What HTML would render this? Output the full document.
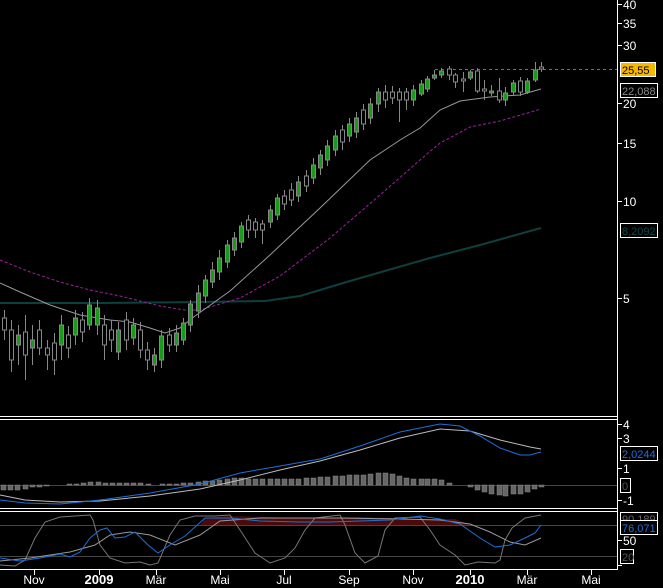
<!DOCTYPE html>
<html><head><meta charset="utf-8"><style>
html,body{margin:0;padding:0;background:#000;}
svg{display:block;font-family:"Liberation Sans",sans-serif;}
.g{fill:#1a9a1a;stroke:#888}.o{fill:#000;stroke:#888}
</style></head><body>
<svg width="663" height="588" viewBox="0 0 663 588" xmlns="http://www.w3.org/2000/svg">
<rect width="663" height="588" fill="#000"/>
<g stroke="#fff" stroke-width="1" fill="none">
<line x1="617.5" y1="0" x2="617.5" y2="570"/>
<line x1="0" y1="416.5" x2="617" y2="416.5"/>
<line x1="0" y1="419.5" x2="617" y2="419.5"/>
<line x1="0" y1="508.5" x2="617" y2="508.5"/>
<line x1="0" y1="511.5" x2="617" y2="511.5"/>
<line x1="0" y1="569.5" x2="617" y2="569.5"/>
</g>
<g stroke="#fff"><line x1="617" y1="4.5" x2="622" y2="4.5"/><line x1="617" y1="23.5" x2="622" y2="23.5"/><line x1="617" y1="45.5" x2="622" y2="45.5"/><line x1="617" y1="103.5" x2="622" y2="103.5"/><line x1="617" y1="143.5" x2="622" y2="143.5"/><line x1="617" y1="201.5" x2="622" y2="201.5"/><line x1="617" y1="298.5" x2="622" y2="298.5"/>
<line x1="617" y1="424.5" x2="622" y2="424.5"/><line x1="617" y1="438.5" x2="622" y2="438.5"/><line x1="617" y1="468.5" x2="622" y2="468.5"/><line x1="617" y1="500.5" x2="622" y2="500.5"/><line x1="617" y1="540.5" x2="622" y2="540.5"/><line x1="617" y1="565.5" x2="622" y2="565.5"/>
</g>
<g fill="#fff" font-size="12">
<text x="623" y="9">40</text><text x="623" y="28">35</text><text x="623" y="50">30</text><text x="623" y="108">20</text><text x="623" y="148">15</text><text x="623" y="206">10</text><text x="623" y="303">5</text>
<text x="623" y="429">4</text><text x="623" y="443">3</text><text x="623" y="473">1</text><text x="623" y="505">-1</text><text x="623" y="545">50</text>
</g>
<g font-size="11">
<rect x="620.5" y="62.5" width="35" height="14" fill="#f5b800" stroke="#fff"/><text x="622" y="74" fill="#000">25,55</text>
<rect x="620.5" y="83.5" width="37" height="14" fill="#000" stroke="#fff"/><text x="622" y="95" fill="#888">22,088</text>
<rect x="620.5" y="223.5" width="37" height="14" fill="#000" stroke="#fff"/><text x="622" y="235" fill="#0c4848">8,2092</text>
<rect x="620.5" y="446.5" width="37" height="14" fill="#000" stroke="#fff"/><text x="622" y="458" fill="#1e6fd9">2,0244</text>
<rect x="620.5" y="478.5" width="10" height="14" fill="#000" stroke="#fff"/><text x="622" y="490" fill="#555">0</text>
<rect x="620.5" y="512.5" width="37" height="12" fill="#000" stroke="#fff"/><text x="622" y="523" fill="#666">90,189</text>
<rect x="620.5" y="520.5" width="37" height="14" fill="#000" stroke="#fff"/><text x="622" y="532" fill="#1e6fd9">76,071</text>
<rect x="620.5" y="549.5" width="13" height="14" fill="#000" stroke="#fff"/><text x="622" y="561" fill="#555">20</text>
</g>
<g stroke="#fff"><line x1="34.5" y1="570" x2="34.5" y2="575"/><line x1="99.5" y1="570" x2="99.5" y2="575"/><line x1="156.5" y1="570" x2="156.5" y2="575"/><line x1="220.5" y1="570" x2="220.5" y2="575"/><line x1="284.5" y1="570" x2="284.5" y2="575"/><line x1="349.5" y1="570" x2="349.5" y2="575"/><line x1="413.5" y1="570" x2="413.5" y2="575"/><line x1="470.5" y1="570" x2="470.5" y2="575"/><line x1="527.5" y1="570" x2="527.5" y2="575"/><line x1="591.5" y1="570" x2="591.5" y2="575"/></g>
<g fill="#fff" font-size="12" text-anchor="middle">
<text x="34" y="584">Nov</text><text x="99" y="584" font-weight="bold" font-size="13">2009</text><text x="156" y="584">Mär</text><text x="220" y="584">Mai</text><text x="284" y="584">Jul</text><text x="349" y="584">Sep</text><text x="413" y="584">Nov</text><text x="470" y="584" font-weight="bold" font-size="13">2010</text><text x="527" y="584">Mär</text><text x="591" y="584">Mai</text>
</g>
<line x1="0" y1="485.5" x2="617" y2="485.5" stroke="#444"/>
<line x1="0" y1="525.5" x2="617" y2="525.5" stroke="#444"/>
<line x1="0" y1="556.5" x2="617" y2="556.5" stroke="#444"/>
<line x1="435" y1="69.5" x2="617" y2="69.5" stroke="#b06020" stroke-dasharray="3,3"/>
<polyline fill="none" stroke="#0e3f3f" stroke-width="2" points="0,303 100,303 200,302 265,301 300,296 350,281 430,258 480,245 541,228"/>
<polyline fill="none" stroke="#a020a0" stroke-dasharray="3,2" points="0,260 30,272 60,282 90,290 120,296 160,306 185,310 200,310 240,298 280,276 330,238 380,195 420,160 440,143 470,127 500,121 541,109"/>
<polyline fill="none" stroke="#999" points="0,283 20,292 50,305 80,315 110,320 130,322 150,328 165,333 180,328 195,316 230,291 270,255 320,208 370,160 400,140 420,128 440,110 460,101 490,97 520,95 541,89"/>
<path stroke="#888" fill="none" d="M4.5 310V340M11.5 320V372M18.5 325V365M25.5 315V380M32.5 325V365M39.5 320V355M47.5 340V370M54.5 333V375M61.5 315V360M68.5 326V358M75.5 310V345M82.5 312V342M89.5 298V330M97.5 300V335M104.5 315V360M111.5 320V352M118.5 322V360M126.5 312V350M133.5 318V345M140.5 322V358M147.5 342V370M154.5 348V372M161.5 330V368M169.5 328V352M176.5 325V352M183.5 318V345M190.5 300V332M198.5 285V318M205.5 275V303M212.5 262V288M219.5 250V280M227.5 240V268M234.5 232V256M241.5 222V248M248.5 215V238M255.5 218V238M262.5 220V244M270.5 205V228M277.5 194V220M284.5 190V210M291.5 183V206M298.5 176V202M306.5 170V192M313.5 158V184M320.5 150V175M327.5 140V166M335.5 130V156M342.5 125V150M349.5 118V142M356.5 112V138M363.5 104V130M370.5 98V124M378.5 88V112M385.5 85V108M392.5 86V104M399.5 88V122M406.5 88V110M413.5 85V106M421.5 80V96M427.5 76V92M434.5 70V80M441.5 68V78M449.5 66V80M455.5 73V88M463.5 72V92M470.5 70V80M477.5 68V93M484.5 80V100M491.5 85V96M499.5 78V103M505.5 87V106M513.5 80V96M520.5 77V96M527.5 78V94M535.5 62V82M541.5 62V72"/>
<g>
<rect class="o" x="2.5" y="318" width="4" height="12"/><rect class="o" x="9.5" y="330" width="4" height="30"/><rect class="g" x="16.5" y="335" width="4" height="10"/><rect class="o" x="23.5" y="332" width="4" height="23"/><rect class="g" x="30.5" y="340" width="4" height="8"/><rect class="o" x="37.5" y="330" width="4" height="18"/><rect class="o" x="45.5" y="348" width="4" height="7"/><rect class="o" x="52.5" y="343" width="4" height="17"/><rect class="g" x="59.5" y="325" width="4" height="20"/><rect class="o" x="66.5" y="335" width="4" height="13"/><rect class="g" x="73.5" y="318" width="4" height="17"/><rect class="o" x="80.5" y="320" width="4" height="12"/><rect class="g" x="87.5" y="305" width="4" height="20"/><rect class="g" x="95.5" y="308" width="4" height="17"/><rect class="o" x="102.5" y="325" width="4" height="20"/><rect class="o" x="109.5" y="330" width="4" height="10"/><rect class="g" x="116.5" y="330" width="4" height="22"/><rect class="o" x="124.5" y="320" width="4" height="20"/><rect class="g" x="131.5" y="325" width="4" height="13"/><rect class="o" x="138.5" y="330" width="4" height="20"/><rect class="o" x="145.5" y="350" width="4" height="10"/><rect class="g" x="152.5" y="355" width="4" height="10"/><rect class="g" x="159.5" y="336" width="4" height="24"/><rect class="o" x="167.5" y="335" width="4" height="10"/><rect class="g" x="174.5" y="333" width="4" height="12"/><rect class="g" x="181.5" y="323" width="4" height="17"/><rect class="g" x="188.5" y="304" width="4" height="21"/><rect class="g" x="196.5" y="293" width="4" height="18"/><rect class="g" x="203.5" y="280" width="4" height="16"/><rect class="g" x="210.5" y="270" width="4" height="12"/><rect class="g" x="217.5" y="258" width="4" height="14"/><rect class="g" x="225.5" y="245" width="4" height="17"/><rect class="g" x="232.5" y="238" width="4" height="12"/><rect class="g" x="239.5" y="226" width="4" height="16"/><rect class="o" x="246.5" y="220" width="4" height="10"/><rect class="o" x="253.5" y="222" width="4" height="8"/><rect class="o" x="260.5" y="224" width="4" height="6"/><rect class="g" x="268.5" y="210" width="4" height="12"/><rect class="g" x="275.5" y="198" width="4" height="17"/><rect class="o" x="282.5" y="196" width="4" height="8"/><rect class="o" x="289.5" y="190" width="4" height="10"/><rect class="g" x="296.5" y="182" width="4" height="14"/><rect class="o" x="304.5" y="176" width="4" height="10"/><rect class="g" x="311.5" y="165" width="4" height="13"/><rect class="g" x="318.5" y="155" width="4" height="13"/><rect class="g" x="325.5" y="146" width="4" height="14"/><rect class="g" x="333.5" y="136" width="4" height="14"/><rect class="o" x="340.5" y="130" width="4" height="12"/><rect class="g" x="347.5" y="124" width="4" height="12"/><rect class="g" x="354.5" y="118" width="4" height="14"/><rect class="o" x="361.5" y="110" width="4" height="14"/><rect class="g" x="368.5" y="104" width="4" height="14"/><rect class="g" x="376.5" y="92" width="4" height="12"/><rect class="o" x="383.5" y="92" width="4" height="8"/><rect class="o" x="390.5" y="92" width="4" height="6"/><rect class="o" x="397.5" y="92" width="4" height="8"/><rect class="o" x="404.5" y="92" width="4" height="8"/><rect class="g" x="411.5" y="90" width="4" height="10"/><rect class="g" x="419.5" y="84" width="4" height="10"/><rect class="g" x="425.5" y="79" width="4" height="10"/><rect class="g" x="432.5" y="75" width="4" height="3"/><rect class="g" x="439.5" y="71" width="4" height="4"/><rect class="o" x="447.5" y="69" width="4" height="6"/><rect class="o" x="453.5" y="75" width="4" height="7"/><rect class="o" x="461.5" y="79" width="4" height="2"/><rect class="g" x="468.5" y="72" width="4" height="6"/><rect class="o" x="475.5" y="71" width="4" height="20"/><rect class="o" x="482.5" y="89" width="4" height="2"/><rect class="g" x="489.5" y="91" width="4" height="2"/><rect class="o" x="497.5" y="91" width="4" height="9"/><rect class="g" x="503.5" y="93" width="4" height="7"/><rect class="g" x="511.5" y="83" width="4" height="9"/><rect class="o" x="518.5" y="81" width="4" height="11"/><rect class="g" x="525.5" y="81" width="4" height="11"/><rect class="g" x="533.5" y="70" width="4" height="10"/><rect class="o" x="539.5" y="67" width="4" height="2"/>
</g>
<g fill="#666" stroke="#888" stroke-width="0.5">
<rect x="1" y="485" width="5" height="5"/><rect x="8" y="485" width="5" height="5"/><rect x="15" y="485" width="5" height="5"/><rect x="23" y="485" width="5" height="4"/><rect x="30" y="485" width="5" height="2"/><rect x="37" y="485" width="5" height="2"/><rect x="44" y="485" width="5" height="1"/><rect x="67" y="484" width="5" height="1"/><rect x="74" y="484" width="5" height="1"/><rect x="81" y="483" width="5" height="2"/><rect x="88" y="482" width="5" height="3"/><rect x="96" y="482" width="5" height="3"/><rect x="103" y="483" width="5" height="2"/><rect x="110" y="483" width="5" height="2"/><rect x="117" y="483" width="5" height="2"/><rect x="124" y="483" width="5" height="2"/><rect x="131" y="483" width="5" height="2"/><rect x="138" y="483" width="5" height="2"/><rect x="146" y="484" width="5" height="1"/><rect x="160" y="484" width="5" height="1"/><rect x="167" y="484" width="5" height="1"/><rect x="174" y="484" width="5" height="1"/><rect x="181" y="483" width="5" height="2"/><rect x="188" y="483" width="5" height="2"/><rect x="196" y="482" width="5" height="3"/><rect x="203" y="481" width="5" height="4"/><rect x="210" y="481" width="5" height="4"/><rect x="217" y="480" width="5" height="5"/><rect x="225" y="479" width="5" height="6"/><rect x="232" y="478" width="5" height="7"/><rect x="239" y="478" width="5" height="7"/><rect x="246" y="479" width="5" height="6"/><rect x="253" y="479" width="5" height="6"/><rect x="260" y="479" width="5" height="6"/><rect x="268" y="479" width="5" height="6"/><rect x="275" y="479" width="5" height="6"/><rect x="282" y="479" width="5" height="6"/><rect x="289" y="479" width="5" height="6"/><rect x="296" y="479" width="5" height="6"/><rect x="304" y="478" width="5" height="7"/><rect x="311" y="478" width="5" height="7"/><rect x="318" y="477" width="5" height="8"/><rect x="325" y="477" width="5" height="8"/><rect x="333" y="476" width="5" height="9"/><rect x="340" y="476" width="5" height="9"/><rect x="347" y="475" width="5" height="10"/><rect x="354" y="475" width="5" height="10"/><rect x="361" y="475" width="5" height="10"/><rect x="368" y="474" width="5" height="11"/><rect x="376" y="473" width="5" height="12"/><rect x="383" y="473" width="5" height="12"/><rect x="390" y="474" width="5" height="11"/><rect x="397" y="476" width="5" height="9"/><rect x="404" y="478" width="5" height="7"/><rect x="411" y="479" width="5" height="6"/><rect x="419" y="479" width="5" height="6"/><rect x="425" y="479" width="5" height="6"/><rect x="432" y="479" width="5" height="6"/><rect x="439" y="480" width="5" height="5"/><rect x="447" y="483" width="5" height="2"/><rect x="468" y="485" width="5" height="2"/><rect x="475" y="485" width="5" height="5"/><rect x="482" y="485" width="5" height="7"/><rect x="489" y="485" width="5" height="9"/><rect x="497" y="485" width="5" height="10"/><rect x="503" y="485" width="5" height="11"/><rect x="511" y="485" width="5" height="9"/><rect x="518" y="485" width="5" height="9"/><rect x="525" y="485" width="5" height="7"/><rect x="532" y="485" width="5" height="4"/><rect x="539" y="485" width="5" height="2"/>
</g>
<polyline fill="none" stroke="#bbb" points="0,495 25,500 60,502 100,501 150,496 200,489 240,480 280,470 320,461 360,450 400,438 440,429 470,431 500,440 530,447 541,449"/>
<polyline fill="none" stroke="#1e6fd9" points="0,500 25,503 60,504 100,500 150,493 200,484 240,473 280,466 320,459 360,446 400,432 440,424 460,426 480,436 500,448 520,455 530,455 541,452"/>
<path d="M200,525 L205,518 L230,516 L300,518 L360,517 L420,519 L455,519 L470,525 Z" fill="#4a0a0a"/>
<polyline fill="none" stroke="#777" points="0,565 15,566 25,560 35,538 45,522 60,517 90,515 93,520 100,545 110,558 125,563 140,562 150,565 158,563 170,535 180,520 195,516 215,516 230,515 240,530 255,553 270,563 285,558 295,548 305,530 315,518 340,515 345,525 355,553 365,563 378,556 385,530 395,518 420,517 430,530 440,545 455,555 465,565 478,562 495,563 500,560 505,540 512,528 525,518 541,515"/>
<polyline fill="none" stroke="#999" points="0,561 30,558 70,552 95,545 110,535 130,532 150,535 175,545 200,535 220,521 260,518 340,518 400,519 440,520 470,524 490,532 510,542 525,545 541,538"/>
<polyline fill="none" stroke="#1e6fd9" points="0,558 20,561 40,558 60,554 70,557 80,552 90,538 100,530 107,528 115,538 125,537 135,532 148,545 158,553 170,545 185,536 195,527 205,518 230,518 260,521 300,522 330,522 390,520 420,516 440,519 460,524 480,538 495,547 510,545 525,538 535,533 541,525"/>
</svg>
</body></html>
